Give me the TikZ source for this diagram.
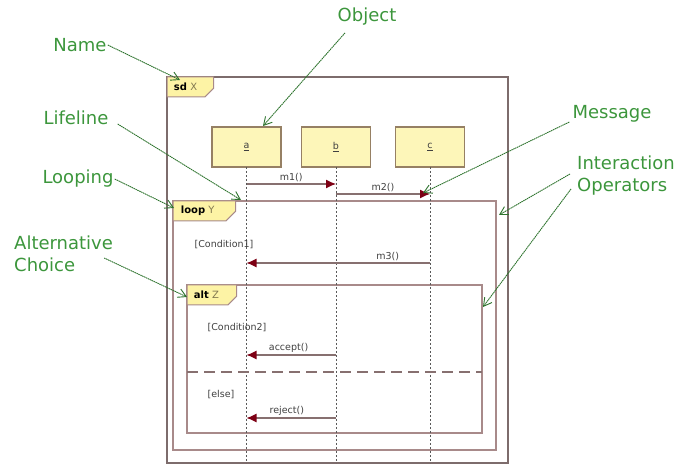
\documentclass[tikz,border=0pt]{standalone}
\usepackage{fontspec}
\setmainfont{DejaVu Sans}
\usetikzlibrary{shapes.misc, arrows.meta, positioning, calc}
\definecolor{framecol}{RGB}{125,108,108}
\definecolor{opcol}{RGB}{168,138,138}
\definecolor{objfill}{RGB}{253,246,185}
\definecolor{objline}{RGB}{150,128,100}
\definecolor{tabfill}{RGB}{253,243,165}
\definecolor{msgcol}{RGB}{135,112,112}
\definecolor{tipcol}{RGB}{125,0,20}
\definecolor{notecol}{RGB}{60,150,60}
\definecolor{pointcol}{RGB}{45,115,45}
\definecolor{tabname}{RGB}{130,120,80}
\tikzset{
    frame/.style = {rectangle, draw=framecol, line width=1.2pt, inner sep=0pt, outer sep=0pt, anchor=north west},
    opframe/.style = {frame, draw=opcol},
    tab/.style = {chamfered rectangle, chamfered rectangle corners=south east, chamfered rectangle sep=5pt, draw=opcol, fill=tabfill, line width=1pt, inner xsep=3pt, inner ysep=0pt, outer sep=0pt, minimum height=20pt, anchor=north west, align=left, font=\fontsize{10}{11}\selectfont},
    obj/.style = {rectangle, minimum width=69pt, minimum height=40pt, inner sep=0pt, outer sep=0pt, draw=objline, line width=1.2pt, fill=objfill, font=\fontsize{9.5}{10}\selectfont, text=black!75},
    lifeline/.style = {draw=black!65, line width=1pt, dash pattern=on 2pt off 2pt},
    msg/.style = {draw=msgcol, line width=1.2pt, -{Latex[length=10pt, width=9pt, color=tipcol]}},
    msglabel/.style = {midway, above=1pt, inner sep=1pt, font=\fontsize{9.5}{10}\selectfont, text=black!75},
    guard/.style = {inner sep=1pt, font=\fontsize{9.5}{10}\selectfont, text=black!75},
    altsep/.style = {draw=msgcol, line width=1.2pt, dash pattern=on 11pt off 6pt},
    note/.style = {text=notecol, inner sep=1pt, font=\fontsize{18}{22}\selectfont},
    pointer/.style = {draw=pointcol, line width=0.9pt, dash pattern=on 1.5pt off 0.6pt, -{Straight Barb[length=8pt, width=9pt]}}
}
\begin{document}
\begin{tikzpicture}[x=1pt, y=-1pt]
\useasboundingbox (0,0) rectangle (681,465);

% frames and their tabs
\node[frame, minimum width=341pt, minimum height=386pt] (sd) at (167,77) {};
\node[opframe, minimum width=323pt, minimum height=249pt] (loop) at (173,201) {};
\node[opframe, minimum width=295pt, minimum height=148pt] (alt) at (187,285) {};
\node[tab, text width=33pt] (sdtab) at (sd.north west) {\textbf{sd} \textcolor{tabname}{X}};
\node[tab, text width=47pt] (looptab) at (loop.north west) {\textbf{loop} \textcolor{tabname}{Y}};
\node[tab, text width=36pt] (alttab) at (alt.north west) {\textbf{alt} \textcolor{tabname}{Z}};

% objects and lifelines
\node[obj] (a) at (246.5,147) {\underline{a}};
\node[obj, right=20.5pt of a] (b) {\underline{b}};
\node[obj, right=25pt of b] (c) {\underline{c}};
\coordinate (bottom) at (0,463);
\foreach \o in {a,b,c}
    \draw[lifeline] (\o.south) -- (\o.south |- bottom);

% messages
\coordinate (m1y) at (0,184);
\coordinate (m2y) at (0,194);
\coordinate (m3y) at (0,263);
\coordinate (accy) at (0,355);
\coordinate (rejy) at (0,418);
\coordinate (sepy) at (0,372);
\draw[msg] (a |- m1y) -- node[msglabel] {m1()} (b |- m1y);
\draw[msg] (b |- m2y) -- node[msglabel] {m2()} (c |- m2y);
\draw[msg] (c |- m3y) -- node[msglabel, pos=0.23] {m3()} (a |- m3y);
\draw[msg] (b |- accy) -- node[msglabel, pos=0.53] {accept()} (a |- accy);
\draw[msg] (b |- rejy) -- node[msglabel, pos=0.55] {reject()} (a |- rejy);
\draw[altsep] (alt.west |- sepy) -- (alt.east |- sepy);

% guards
\node[guard] (cond1) at (224,245) {[Condition1]};
\node[guard] (cond2) at (237,328) {[Condition2]};
\node[guard] (else) at (221,395) {[else]};

% annotations
\node[note] (name) at (80,45) {Name};
\node[note] (object) at (367,17) {Object};
\node[note] (lifeline) at (76,118) {Lifeline};
\node[note] (looping) at (78,179) {Looping};
\node[note, align=left, anchor=west] (altchoice) at (13,254) {Alternative\\Choice};
\node[note] (message) at (612,114) {Message};
\node[note, align=left, anchor=west] (operators) at (576,176) {Interaction\\Operators};

\coordinate (nametip) at (180,80);
\coordinate (objtip) at (263,126);
\coordinate (lifetip) at (241,200);
\coordinate (looptip) at (174,208);
\coordinate (alttip) at (187,297);
\coordinate (msgtip) at (423,193);
\coordinate (optip1) at (499,215);
\coordinate (optip2) at (483,307);

\draw[pointer] (name.east) -- (nametip);
\draw[pointer] ([shift={(-22,6)}]object.south) -- (objtip);
\draw[pointer] ([shift={(8,6)}]lifeline.east) -- (lifetip);
\draw[pointer] (looping.east) -- (looptip);
\draw[pointer] ([shift={(-10,4)}]altchoice.east) -- (alttip);
\draw[pointer] ([shift={(-2,8)}]message.west) -- (msgtip);
\draw[pointer] ([shift={(-6,-2)}]operators.west) -- (optip1);
\draw[pointer] ([shift={(-5,13)}]operators.west) -- (optip2);
\end{tikzpicture}
\end{document}
